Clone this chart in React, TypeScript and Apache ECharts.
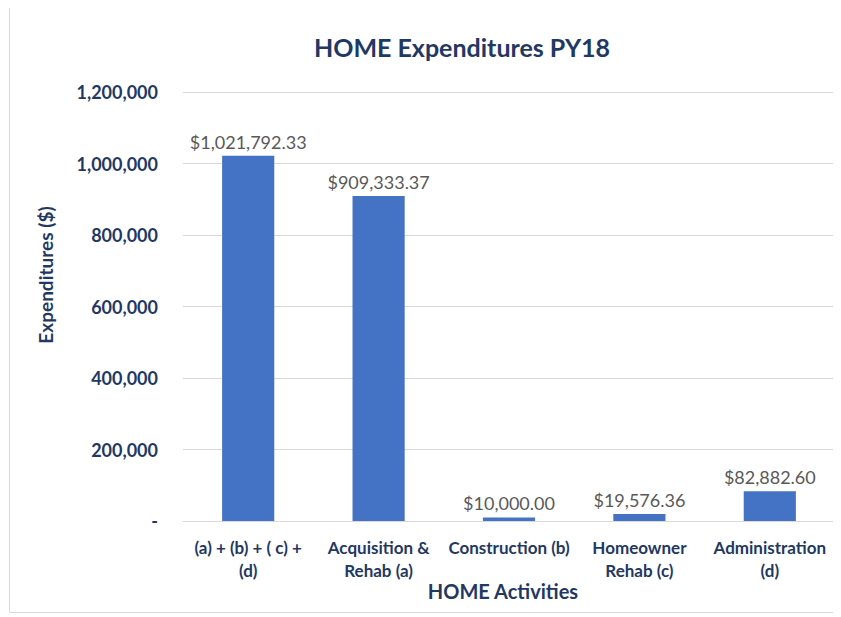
import React, { useEffect, useRef } from "react";
import * as echarts from "echarts";

const categories = [
  "(a) + (b) + ( c) +\n(d)",
  "Acquisition &\nRehab (a)",
  "Construction (b)",
  "Homeowner\nRehab (c)",
  "Administration\n(d)",
];
const values = [1021792.33, 909333.37, 10000.0, 19576.36, 82882.6];
const yTicks = [0, 200000, 400000, 600000, 800000, 1000000, 1200000];

const NAVY = "#1F3864";
const FONT = "Lato, 'Open Sans', sans-serif";

export default function App() {
  const ref = useRef<HTMLDivElement>(null);
  useEffect(() => {
    if (!ref.current) return;
    const chart = echarts.init(ref.current, null, { renderer: "svg" });
    const fmtMoney = (v: number) =>
      "$" + v.toLocaleString("en-US", { minimumFractionDigits: 2, maximumFractionDigits: 2 });
    chart.setOption({
      animation: false,
      backgroundColor: "#ffffff",
      textStyle: { fontFamily: FONT },
      title: {
        text: "HOME Expenditures PY18",
        left: 449,
        top: 21,
        textAlign: "center",
        textStyle: { fontFamily: FONT, fontSize: 25, fontWeight: "bold", color: NAVY },
      },
      grid: { left: 175, right: 6, top: 84, bottom: 96 },
      xAxis: {
        type: "category",
        data: categories,
        axisTick: { show: false },
        axisLine: { lineStyle: { color: "#D9D9D9", width: 1 } },
        axisLabel: {
          color: NAVY,
          fontFamily: FONT,
          fontSize: 17,
          fontWeight: "bold",
          lineHeight: 23,
          margin: 15,
          interval: 0,
        },
      },
      yAxis: {
        type: "value",
        min: 0,
        max: 1200000,
        interval: 200000,
        axisLine: { show: false },
        axisTick: { show: false },
        splitLine: { lineStyle: { color: "#D9D9D9", width: 1 } },
        axisLabel: {
          color: NAVY,
          fontFamily: FONT,
          fontSize: 18,
          fontWeight: "bold",
          margin: 25,
          formatter: (v: number) =>
            v === 0 ? "-" : yTicks.includes(v) ? v.toLocaleString("en-US") : "",
        },
      },
      series: [
        {
          type: "bar",
          data: values,
          barWidth: "40%",
          itemStyle: { color: "#4472C4" },
          label: {
            show: true,
            position: "top",
            distance: 5,
            color: "#595959",
            fontFamily: FONT,
            fontSize: 18,
            formatter: (p: any) => fmtMoney(p.value),
          },
        },
      ],
      graphic: [
        {
          type: "text",
          x: 37,
          y: 267,
          rotation: Math.PI / 2,
          style: {
            text: "Expenditures ($)",
            fill: NAVY,
            font: `bold 19px ${FONT}`,
            textAlign: "center",
            textVerticalAlign: "middle",
          },
        },
        {
          type: "text",
          x: 495,
          y: 583,
          style: {
            text: "HOME Activities",
            fill: NAVY,
            font: `bold 20px ${FONT}`,
            textAlign: "center",
            textVerticalAlign: "middle",
          },
        },
        {
          type: "line",
          shape: { x1: 1.5, y1: 0, x2: 1.5, y2: 604 },
          style: { stroke: "#D9D9D9", lineWidth: 1 },
        },
        {
          type: "line",
          shape: { x1: 1.5, y1: 604.5, x2: 833, y2: 604.5 },
          style: { stroke: "#D9D9D9", lineWidth: 1 },
        },
      ],
    });
    return () => chart.dispose();
  }, []);
  return <div ref={ref} style={{ width: 833, height: 609 }} />;
}
